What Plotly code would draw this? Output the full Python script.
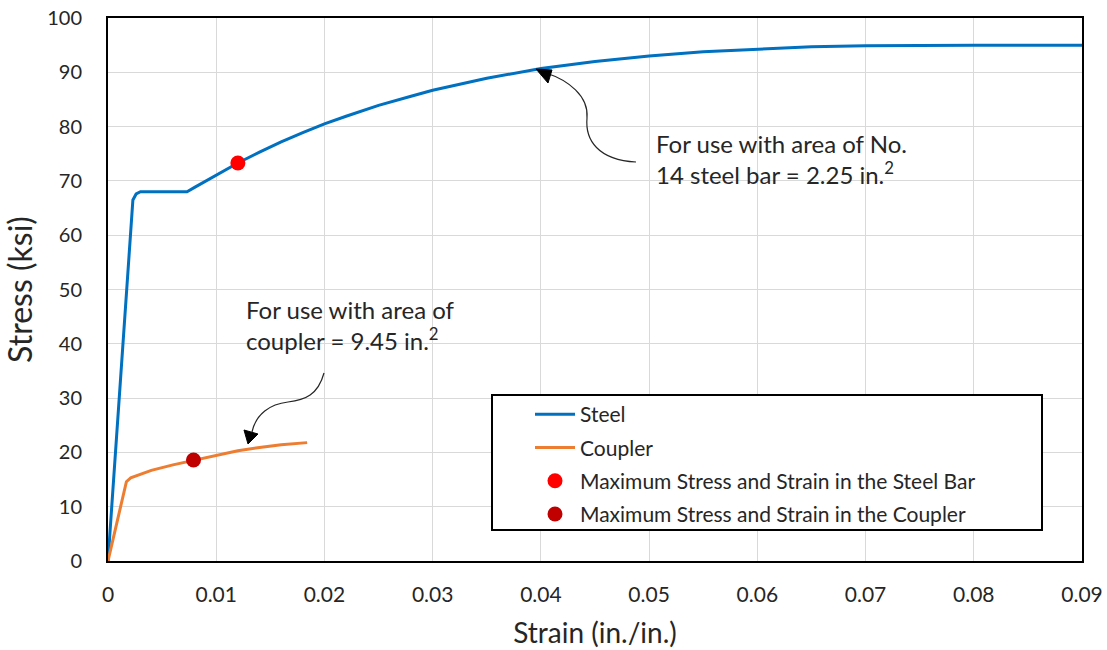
import plotly.graph_objects as go

# ---------------- data ----------------
steel_strain = [0, 0.0023, 0.0026, 0.003, 0.0045, 0.0073, 0.008, 0.010, 0.012, 0.014, 0.016,
                0.018, 0.020, 0.022, 0.025, 0.028, 0.030, 0.035, 0.040, 0.045, 0.050,
                0.055, 0.060, 0.065, 0.070, 0.075, 0.080, 0.090]
steel_stress = [0, 66.5, 67.6, 68.0, 68.0, 68.0, 68.8, 71.1, 73.3, 75.3, 77.2,
                78.9, 80.5, 81.9, 83.9, 85.6, 86.7, 88.9, 90.7, 92.0, 93.0,
                93.8, 94.3, 94.7, 94.9, 95.0, 95.0, 95.0]
coupler_strain = [0, 0.0017, 0.0021, 0.004, 0.006, 0.008, 0.010, 0.012, 0.014, 0.016, 0.0184]
coupler_stress = [0, 14.6, 15.3, 16.7, 17.7, 18.6, 19.5, 20.3, 20.9, 21.4, 21.8]
steel_max = (0.0120, 73.3)
coupler_max = (0.0079, 18.6)

x_ticks = [0, 0.01, 0.02, 0.03, 0.04, 0.05, 0.06, 0.07, 0.08, 0.09]
x_labels = ["0", "0.01", "0.02", "0.03", "0.04", "0.05", "0.06", "0.07", "0.08", "0.09"]
y_ticks = list(range(0, 101, 10))

FONT = "Lato, 'Open Sans', sans-serif"
TXT = "#262626"

L, R, T, B = 108, 25, 18, 89
W, H = 1107, 650
PW, PH = W - L - R, H - T - B


def px(xp, yp):
    return (xp - L) / PW, (H - B - yp) / PH


def path(cmds):
    out = []
    for c in cmds:
        if isinstance(c, str):
            out.append(c)
        else:
            a, b = px(*c)
            out.append(f"{a:.5f},{b:.5f}")
    return " ".join(out)


fig = go.Figure()
fig.add_trace(go.Scatter(x=steel_strain, y=steel_stress, mode="lines", name="Steel",
                         legendgroup="a", line=dict(color="#0070C0", width=3)))
fig.add_trace(go.Scatter(x=coupler_strain, y=coupler_stress, mode="lines", name="Coupler",
                         legendgroup="b", line=dict(color="#ED7D31", width=3)))
fig.add_trace(go.Scatter(x=[steel_max[0]], y=[steel_max[1]], mode="markers",
                         name="Maximum Stress and Strain in the Steel Bar", legendgroup="c",
                         marker=dict(color="#FF0000", size=15)))
fig.add_trace(go.Scatter(x=[coupler_max[0]], y=[coupler_max[1]], mode="markers",
                         name="Maximum Stress and Strain in the Coupler", legendgroup="d",
                         marker=dict(color="#C00000", size=15)))

shapes = []
# legend box
x0, y0 = px(492, 530)
x1, y1 = px(1042, 395)
shapes.append(dict(type="rect", xref="paper", yref="paper", x0=x0, y0=y0, x1=x1, y1=y1,
                   fillcolor="white", line=dict(color="black", width=2), layer="above"))
# annotation text backgrounds
for (a, b, c, d) in [(636, 112, 955, 207), (236, 283, 528, 372)]:
    xa, ya = px(a, d)
    xb, yb = px(c, b)
    shapes.append(dict(type="rect", xref="paper", yref="paper", x0=xa, y0=ya, x1=xb, y1=yb,
                       fillcolor="white", line=dict(width=0), layer="below"))
# curved arrows
shapes.append(dict(type="path", xref="paper", yref="paper",
                   path=path(["M", (636, 162), "C", (598, 160), (585, 140), (587, 118),
                              "C", (589, 96), (568, 80), (546, 73)]),
                   line=dict(color="#262626", width=1.2)))
shapes.append(dict(type="path", xref="paper", yref="paper",
                   path=path(["M", (536, 69), "L", (552, 70), "L", (548, 83), "Z"]),
                   fillcolor="black", line=dict(color="black", width=1)))
shapes.append(dict(type="path", xref="paper", yref="paper",
                   path=path(["M", (324, 373), "C", (318, 395), (305, 400), (288, 402),
                              "C", (270, 404), (256, 414), (252, 432)]),
                   line=dict(color="#262626", width=1.2)))
shapes.append(dict(type="path", xref="paper", yref="paper",
                   path=path(["M", (248, 444), "L", (244, 430), "L", (258, 434), "Z"]),
                   fillcolor="black", line=dict(color="black", width=1)))

annotations = []
ax, ay = px(654, 159)
annotations.append(dict(xref="paper", yref="paper", x=ax, y=ay, xanchor="left", yanchor="middle",
                        align="left", showarrow=False,
                        text="For use with area of No.<br>14 steel bar = 2.25 in.<sup>2</sup>",
                        font=dict(family=FONT, size=24, color=TXT)))
ax, ay = px(244, 325)
annotations.append(dict(xref="paper", yref="paper", x=ax, y=ay, xanchor="left", yanchor="middle",
                        align="left", showarrow=False,
                        text="For use with area of<br>coupler = 9.45 in.<sup>2</sup>",
                        font=dict(family=FONT, size=24, color=TXT)))

lx, ly = px(530, 394)
fig.update_layout(
    width=W, height=H,
    margin=dict(l=L, r=R, t=T, b=B, autoexpand=False),
    paper_bgcolor="white", plot_bgcolor="white",
    font=dict(family=FONT, color=TXT),
    shapes=shapes, annotations=annotations,
    showlegend=True,
    legend=dict(x=lx, y=ly, xanchor="left", yanchor="top", bgcolor="rgba(0,0,0,0)",
                borderwidth=0, font=dict(family=FONT, size=21, color=TXT),
                itemwidth=40, tracegroupgap=3),
    xaxis=dict(range=[0, 0.0900001], tickvals=x_ticks, ticktext=x_labels,
               showgrid=True, gridcolor="#D9D9D9", gridwidth=1,
               showline=True, linecolor="black", linewidth=2, mirror=True,
               ticks="", zeroline=False, ticklabelstandoff=14, automargin=False,
               ticklabeloverflow="allow",
               tickfont=dict(family=FONT, size=21, color=TXT),
               title=dict(text="Strain (in./in.)", font=dict(family=FONT, size=28, color=TXT),
                          standoff=18)),
    yaxis=dict(range=[0, 100], tickvals=y_ticks,
               showgrid=True, gridcolor="#D9D9D9", gridwidth=1,
               showline=True, linecolor="black", linewidth=2, mirror=True,
               ticks="", zeroline=False, ticklabelstandoff=20, automargin=False,
               tickfont=dict(family=FONT, size=20, color=TXT),
               title=dict(text="Stress (ksi)", font=dict(family=FONT, size=32, color=TXT),
                          standoff=6)),
)

fig.write_html("out.html")
